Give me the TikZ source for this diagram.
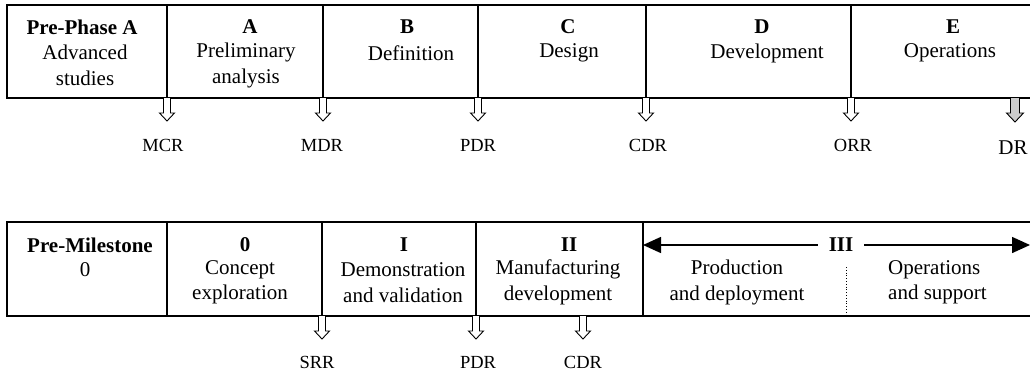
\documentclass[tikz,border=0pt]{standalone}
\usepackage{fontspec}
\setmainfont{Liberation Serif}
\usetikzlibrary{arrows.meta}
\tikzset{
  txt/.style={inner sep=0pt, align=center, font=\fontsize{21}{25.5}\selectfont},
  hdr/.style={txt, font=\fontsize{21}{25.5}\selectfont\bfseries},
  lbl/.style={inner sep=0pt, font=\fontsize{18.5}{22}\selectfont},
  frame/.style={line width=1.3pt},
  blockarr/.pic={\draw[line width=0.9pt, fill=white] (-3.5,0) -- (-3.5,15) -- (-7.5,15) -- (0,23) -- (7.5,15) -- (3.5,15) -- (3.5,0);},
  grayarr/.pic={\draw[line width=0.9pt, fill=black!20] (-4.5,0) -- (-4.5,15) -- (-8.5,15) -- (0,24) -- (8.5,15) -- (4.5,15) -- (4.5,0);},
  wide/.style={line width=1.5pt, {Triangle[length=18pt,width=16pt]}-{Triangle[length=18pt,width=16pt]}}
}
\begin{document}
\begin{tikzpicture}[x=1pt,y=-1pt]
\useasboundingbox (0,0) rectangle (1030,372);
% ---------- top row frame
\draw[frame] (1031,5) -- (7,5) -- (7,98) -- (1031,98);
\foreach \x in {167,323,478,646,851} \draw[frame] (\x,5) -- (\x,98);
% top headers
\node[hdr] (hPre) at (82,27) {Pre-Phase A};
\node[hdr] (hA) at (250,27) {A};
\node[hdr] (hB) at (407,27) {B};
\node[hdr] (hC) at (568,27) {C};
\node[hdr] (hD) at (762,27) {D};
\node[hdr] (hE) at (953,27) {E};
% top bodies
\node[txt] (bPre) at (85,65.5) {Advanced\\studies};
\node[txt] (bA) at (246,65.5) {Preliminary\\analysis};
\node[txt] (bB) at (411,53) {Definition};
\node[txt] (bC) at (569,53) {Design};
\node[txt] (bD) at (767,53) {Development};
\node[txt] (bE) at (950,53) {Operations};
% top milestone arrows
\foreach \x in {167,323,478,646,851} \pic at (\x,98) {blockarr};
\pic at (1015,98) {grayarr};
\node[lbl] (mcr) at (163,145) {MCR};
\node[lbl] (mdr) at (322,145) {MDR};
\node[lbl] (pdr) at (478,145) {PDR};
\node[lbl] (cdr) at (648,145) {CDR};
\node[lbl] (orr) at (853,145) {ORR};
\node[lbl, font=\fontsize{21}{25}\selectfont] (dr) at (1013,148) {DR};
% ---------- bottom row frame
\draw[frame] (1031,222) -- (7,222) -- (7,316) -- (1031,316);
\foreach \x in {167,322,476,643} \draw[frame] (\x,222) -- (\x,316);
\draw[line width=0.8pt, dotted] (846,267) -- (846,316);
% bottom headers
\node[hdr] (hPM) at (90,245) {Pre-Milestone};
\node[hdr] (h0) at (245,245) {0};
\node[hdr] (hI) at (404,245) {I};
\node[hdr] (hII) at (569,245) {II};
\node[hdr, inner xsep=11pt] (hIII) at (841,245) {III};
\coordinate (IIIL) at (643,245);
\coordinate (IIIR) at (1030,245);
\draw[line width=1.5pt, -{Triangle[length=18pt,width=16pt]}] (hIII.west) -- (IIIL);
\draw[line width=1.5pt, -{Triangle[length=18pt,width=16pt]}] (hIII.east) -- (IIIR);
% bottom bodies
\node[txt] (bPM) at (85,270) {0};
\node[txt] (b0) at (240,282.5) {Concept\\exploration};
\node[txt] (bI) at (403,282.5) {Demonstration\\and validation};
\node[txt] (bII) at (558,282.5) {Manufacturing\\development};
\node[txt] (bIIIa) at (737,282.5) {Production\\and deployment};
\node[txt, align=left, anchor=west] (bIIIb) at (888,282.5) {Operations\\and support};
% bottom milestone arrows
\foreach \x in {322,476,583} \pic at (\x,316) {blockarr};
\node[lbl] (srr) at (317,362) {SRR};
\node[lbl] (pdr2) at (478,362) {PDR};
\node[lbl] (cdr2) at (583,362) {CDR};
\end{tikzpicture}
\end{document}
